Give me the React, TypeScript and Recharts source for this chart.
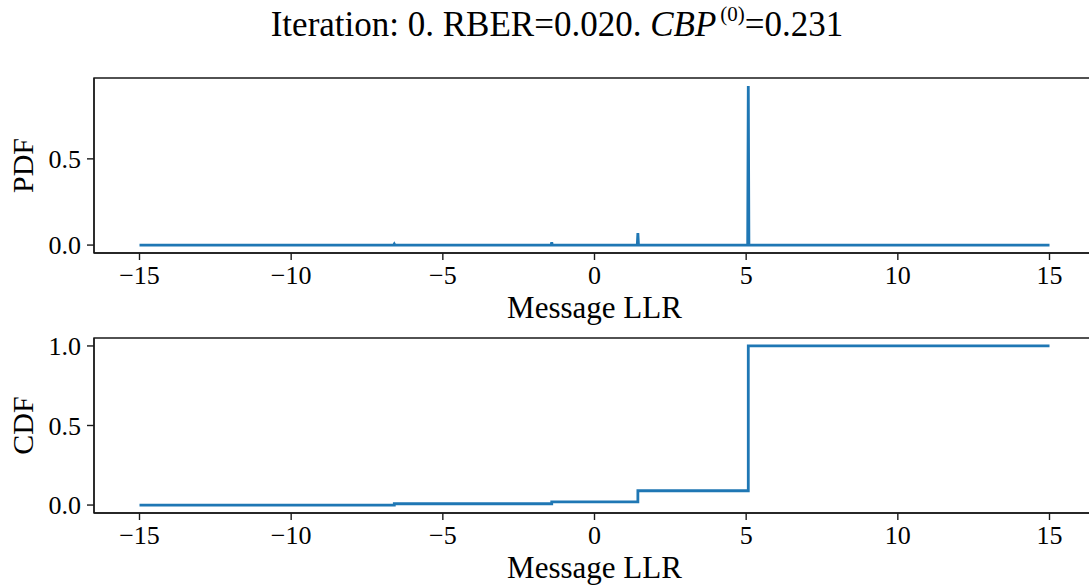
import { LineChart, Line, XAxis, YAxis, ReferenceArea } from 'recharts';

// message LLR axis
const xTicks = [-15, -10, -5, 0, 5, 10, 15];
const xDomain: [number, number] = [-16.5, 16.5];

// PDF: flat at zero with narrow spikes
const pdfLLR = [-15, -6.62, -6.6, -6.58, -1.43, -1.41, -1.39, 1.41, 1.43, 1.45, 5.05, 5.07, 5.09, 15];
const pdfValues = [0, 0, 0.006, 0, 0, 0.016, 0, 0, 0.07, 0, 0, 0.923, 0, 0];
const pdfTicks = [0, 0.5];

// CDF: step function
const cdfLLR = [-15, -6.6, -1.41, 1.43, 5.07, 15];
const cdfValues = [0, 0.008, 0.02, 0.09, 1.0, 1.0];
const cdfTicks = [0, 0.5, 1.0];

const FONT = '"Liberation Serif", "Times New Roman", serif';
const BLUE = '#1f77b4';
const SPINE = '#1a1a1a';

const fmtX = (v: number) => (v < 0 ? `\u2212${Math.abs(v)}` : `${v}`);
const fmtY = (v: number) => v.toFixed(1);

interface PanelProps {
  xs: number[];
  ys: number[];
  yDomain: [number, number];
  yTicks: number[];
  yLabel: string;
  plotTop: number;
  chartHeight: number;
  axisHeight: number;
  labelOffset: number;
  step?: boolean;
}

function Panel({ xs, ys, yDomain, yTicks, yLabel, plotTop, chartHeight, axisHeight, labelOffset, step }: PanelProps) {
  const data = xs.map((x, i) => ({ llr: x, value: ys[i] }));
  const tickStyle = { fontFamily: FONT, fontSize: 26, fill: '#000' };

  return (
    <div style={{ position: 'absolute', left: 0, top: 0 }}>
      <LineChart
        width={1100}
        height={chartHeight}
        data={data}
        margin={{ top: plotTop, right: 5, left: 0, bottom: 0 }}
      >
        <XAxis
          dataKey="llr"
          type="number"
          domain={xDomain}
          ticks={xTicks}
          allowDataOverflow
          height={axisHeight}
          tick={tickStyle}
          tickFormatter={fmtX}
          tickSize={7}
          tickMargin={6}
          stroke={SPINE}
          strokeWidth={1.4}
          label={{
            value: 'Message LLR',
            position: 'insideBottom',
            offset: labelOffset,
            style: { fontFamily: FONT, fontSize: 31, fill: '#000' },
          }}
        />
        <YAxis
          type="number"
          domain={yDomain}
          ticks={yTicks}
          allowDataOverflow
          width={94}
          tick={tickStyle}
          tickFormatter={fmtY}
          tickSize={7}
          tickMargin={6}
          stroke={SPINE}
          strokeWidth={1.4}
          label={{
            content: ({ viewBox }: any) => {
              const cy = viewBox.y + viewBox.height / 2;
              return (
                <text
                  x={33}
                  y={cy}
                  transform={`rotate(-90 33 ${cy})`}
                  textAnchor="middle"
                  style={{ fontFamily: FONT, fontSize: 30, fill: '#000' }}
                >
                  {yLabel}
                </text>
              );
            },
          }}
        />
        {/* 外框 */}
        <ReferenceArea
          x1={xDomain[0]}
          x2={xDomain[1]}
          y1={yDomain[0]}
          y2={yDomain[1]}
          fill="none"
          stroke={SPINE}
          strokeWidth={1.4}
          ifOverflow="visible"
        />
        <Line
          type={step ? 'stepAfter' : 'linear'}
          dataKey="value"
          stroke={BLUE}
          strokeWidth={2.8}
          dot={false}
          isAnimationActive={false}
        />
      </LineChart>
    </div>
  );
}

export default function App() {
  return (
    <div
      style={{
        position: 'fixed',
        left: 0,
        top: 0,
        width: 1089,
        height: 586,
        overflow: 'hidden',
        background: '#fff',
      }}
    >
      <svg width={1089} height={60} style={{ position: 'absolute', left: 0, top: 0 }}>
        <text x={557} y={36} textAnchor="middle" style={{ fontFamily: FONT, fontSize: 35, fill: '#000' }}>
          Iteration: 0. RBER=0.020.{' '}
          <tspan fontStyle="italic">CBP</tspan>
          <tspan dx={4} dy={-15} fontSize={21}>(0)</tspan>
          <tspan dy={15}>=0.231</tspan>
        </text>
      </svg>
      <Panel
        xs={pdfLLR}
        ys={pdfValues}
        yDomain={[-0.046, 0.969]}
        yTicks={pdfTicks}
        yLabel="PDF"
        plotTop={78}
        chartHeight={330}
        axisHeight={77}
        labelOffset={12}
      />
      <Panel
        xs={cdfLLR}
        ys={cdfValues}
        yDomain={[-0.05, 1.05]}
        yTicks={cdfTicks}
        yLabel="CDF"
        plotTop={338}
        chartHeight={586}
        axisHeight={73}
        labelOffset={8}
        step
      />
    </div>
  );
}
